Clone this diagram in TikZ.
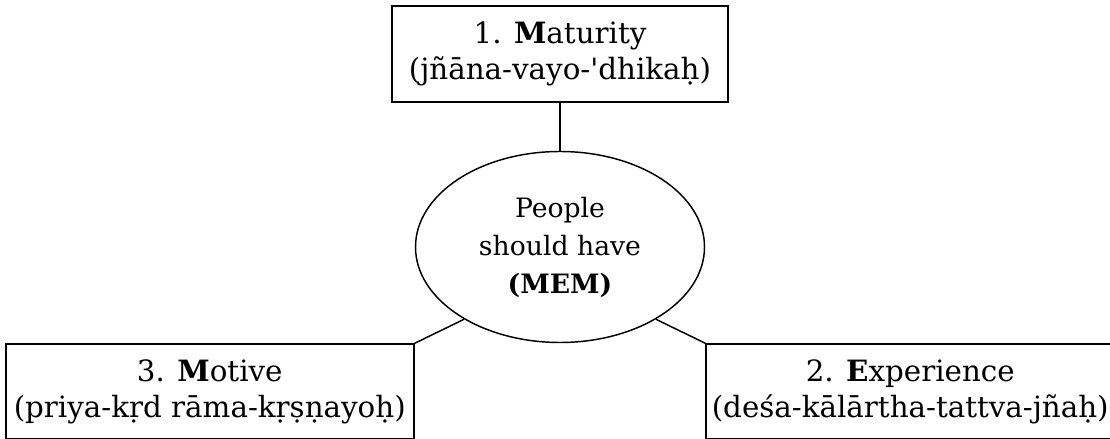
\documentclass[tikz,border=0pt]{standalone}
\usepackage{fontspec}
\setmainfont{DejaVu Serif}
\usetikzlibrary{shapes,positioning}

\begin{document}
\begin{tikzpicture}[node distance=36pt, auto]
    \tikzstyle{box} = [rectangle, draw=black, line width=1.5pt, align=center, inner sep=0pt, font=\fontsize{22}{26.5}\selectfont]
    \tikzstyle{goal} = [ellipse, draw=black, line width=1.1pt, minimum width=216.75pt, minimum height=143.25pt, inner sep=0pt, align=center, font=\fontsize{20}{28.5}\selectfont]
    \tikzstyle{link} = [line width=1.1pt]

    \useasboundingbox (0,0) rectangle (832.5pt,329.25pt);

    \node[goal] (mem) at (420pt,144pt) {People\\should have\\\textbf{(MEM)}};
    \node[box, minimum width=252pt, minimum height=72pt, above=of mem] (maturity) {1. \textbf{M}aturity\\(jñāna-vayo-\textquotesingle dhikaḥ)};
    \node[box, minimum width=306pt, minimum height=71.25pt, anchor=north east] (motive) at (mem.west |- mem.south) {3. \textbf{M}otive\\(priya-kṛd rāma-kṛṣṇayoḥ)};
    \node[box, minimum width=306pt, minimum height=71.25pt, anchor=north west] (experience) at (mem.east |- mem.south) {2. \textbf{E}xperience\\(deśa-kālārtha-tattva-jñaḥ)};

    \draw[link] (maturity) -- (mem);
    \draw[link] (mem.217) -- (motive.north east);
    \draw[link] (mem.323) -- (experience.north west);
\end{tikzpicture}
\end{document}
